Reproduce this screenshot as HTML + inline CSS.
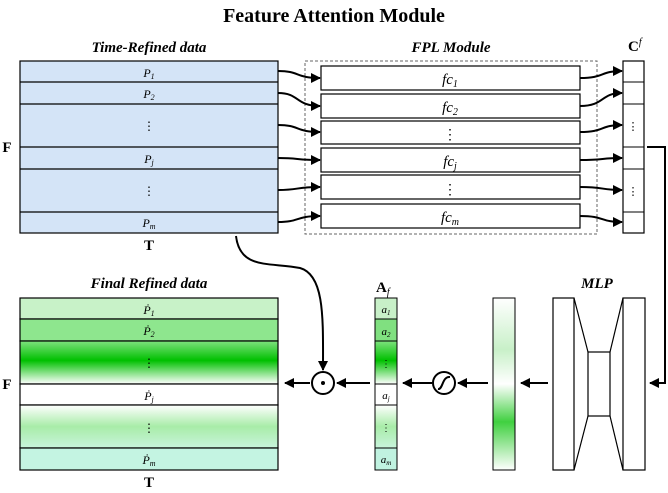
<!DOCTYPE html>
<html><head><meta charset="utf-8"><style>
body{margin:0;background:#fff}
svg text{font-family:"Liberation Serif",serif}
.d{font-style:normal}
</style></head><body>
<svg width="668" height="488" viewBox="0 0 668 488" xmlns="http://www.w3.org/2000/svg">
<defs>
<marker id="ah" viewBox="0 0 10 10" refX="9" refY="5" markerWidth="5" markerHeight="5" orient="auto"><path d="M0,0 L10,5 L0,10 z" fill="#000"/></marker>
<linearGradient id="g3" x1="0" y1="0" x2="0" y2="1"><stop offset="0" stop-color="#7ee27e"/><stop offset="0.45" stop-color="#00c000"/><stop offset="1" stop-color="#ffffff"/></linearGradient>
<linearGradient id="g5" x1="0" y1="0" x2="0" y2="1"><stop offset="0" stop-color="#ffffff"/><stop offset="0.5" stop-color="#a8eca8"/><stop offset="1" stop-color="#c8f4dc"/></linearGradient>
<linearGradient id="gm" x1="0" y1="0" x2="0" y2="1"><stop offset="0" stop-color="#ffffff"/><stop offset="0.3" stop-color="#c8f0c8"/><stop offset="0.5" stop-color="#ffffff"/><stop offset="0.72" stop-color="#40d040"/><stop offset="1" stop-color="#ffffff"/></linearGradient>
</defs>
<text x="334" y="22" font-size="20" font-weight="bold" text-anchor="middle">Feature Attention Module</text>
<g font-style="italic" font-weight="bold" font-size="15" text-anchor="middle">
<text x="149" y="52">Time-Refined data</text>
<text x="451" y="52">FPL Module</text>
<text x="149" y="288">Final Refined data</text>
<text x="597" y="288">MLP</text>
</g>
<g font-weight="bold" font-size="15" text-anchor="middle">
<text x="7" y="152">F</text><text x="149" y="250">T</text>
<text x="7" y="389">F</text><text x="149" y="487">T</text>
</g>
<rect x="20" y="61" width="258" height="172" fill="#d4e4f7" stroke="#000" stroke-width="1.2"/>
<g stroke="#000" stroke-width="1.2"><line x1="20" y1="82" x2="278" y2="82"/><line x1="20" y1="104" x2="278" y2="104"/><line x1="20" y1="147" x2="278" y2="147"/><line x1="20" y1="169" x2="278" y2="169"/><line x1="20" y1="212" x2="278" y2="212"/></g>
<g font-style="italic" font-size="12" text-anchor="middle">
<text x="149" y="77">P<tspan font-size="8" dy="2">1</tspan></text>
<text x="149" y="98">P<tspan font-size="8" dy="2">2</tspan></text>
<text class="d" x="149" y="130">⋮</text>
<text x="149" y="163">P<tspan font-size="8" dy="2">j</tspan></text>
<text class="d" x="149" y="195">⋮</text>
<text x="149" y="227">P<tspan font-size="8" dy="2">m</tspan></text>
</g>
<rect x="305" y="61" width="292" height="173" fill="none" stroke="#666" stroke-dasharray="3,2"/>
<g fill="#fff" stroke="#000" stroke-width="1.2">
<rect x="321" y="66" width="259" height="24"/><rect x="321" y="94" width="259" height="24"/><rect x="321" y="121" width="259" height="23"/><rect x="321" y="148" width="259" height="24"/><rect x="321" y="175" width="259" height="24"/><rect x="321" y="204" width="259" height="24"/>
</g>
<g font-style="italic" font-size="15" text-anchor="middle">
<text x="450" y="84">fc<tspan font-size="10" dy="3">1</tspan></text>
<text x="450" y="112">fc<tspan font-size="10" dy="3">2</tspan></text>
<text class="d" x="450" y="139" font-size="14">⋮</text>
<text x="450" y="166">fc<tspan font-size="10" dy="3">j</tspan></text>
<text class="d" x="450" y="194" font-size="14">⋮</text>
<text x="450" y="222">fc<tspan font-size="10" dy="3">m</tspan></text>
</g>
<g fill="none" stroke="#000" stroke-width="2" marker-end="url(#ah)">
<path d="M278,71 C300,71 295,78 320,78"/>
<path d="M278,93 C300,93 295,106 320,106"/>
<path d="M278,125 C300,125 295,132 320,132"/>
<path d="M278,158 C300,158 295,160 320,160"/>
<path d="M278,190 C300,190 295,187 320,187"/>
<path d="M278,222 C300,222 295,216 320,216"/>
<path d="M580,78 C605,78 600,71 622,71"/>
<path d="M580,106 C605,106 600,93 622,93"/>
<path d="M580,132 C605,132 600,125 622,125"/>
<path d="M580,160 C605,160 600,158 622,158"/>
<path d="M580,187 C605,187 600,190 622,190"/>
<path d="M580,216 C605,216 600,222 622,222"/>
</g>
<rect x="623" y="61" width="21" height="172" fill="#fff" stroke="#000" stroke-width="1.2"/>
<g stroke="#000"><line x1="623" y1="82" x2="644" y2="82"/><line x1="623" y1="104" x2="644" y2="104"/><line x1="623" y1="147" x2="644" y2="147"/><line x1="623" y1="169" x2="644" y2="169"/><line x1="623" y1="212" x2="644" y2="212"/></g>
<text x="633" y="130" font-size="11" text-anchor="middle">⋮</text><text x="633" y="195" font-size="11" text-anchor="middle">⋮</text>
<text x="628" y="51" font-size="15" font-weight="bold">C<tspan font-size="10" font-weight="normal" font-style="italic" dy="-6">f</tspan></text>
<path d="M647,147 H665 V383 H650" fill="none" stroke="#000" stroke-width="2" marker-end="url(#ah)"/>
<g fill="#fff" stroke="#000" stroke-width="1.2">
<rect x="553" y="298" width="21" height="172"/><rect x="623" y="298" width="22" height="172"/><rect x="588" y="352" width="22" height="64"/>
<path d="M574,298 L588,352 M574,470 L588,416 M623,298 L610,352 M623,470 L610,416" fill="none"/>
</g>
<rect x="493" y="298" width="22" height="172" fill="url(#gm)" stroke="#000" stroke-width="1"/>
<g fill="none" stroke="#000" stroke-width="2" marker-end="url(#ah)">
<line x1="548" y1="383" x2="521" y2="383"/>
<line x1="488" y1="383" x2="458" y2="383"/>
<line x1="432" y1="383" x2="403" y2="383"/>
<line x1="370" y1="383" x2="337" y2="383"/>
<line x1="310" y1="383" x2="285" y2="383"/>
<path d="M236,236 C240,270 270,262 300,268 C325,275 323,320 323,370"/>
</g>
<circle cx="444" cy="383" r="11" fill="#fff" stroke="#000" stroke-width="2"/>
<path d="M438,389 C443,390 442,376 450,377" fill="none" stroke="#000" stroke-width="2"/>
<circle cx="323" cy="383" r="11" fill="#fff" stroke="#000" stroke-width="2"/>
<circle cx="323" cy="383" r="2" fill="#000"/>
<g stroke="#000" stroke-width="1">
<rect x="375" y="298" width="22" height="21" fill="#c8f0c8"/>
<rect x="375" y="319" width="22" height="22" fill="#80e080"/>
<rect x="375" y="341" width="22" height="43" fill="url(#g3)"/>
<rect x="375" y="384" width="22" height="21" fill="#fff"/>
<rect x="375" y="405" width="22" height="43" fill="url(#g5)"/>
<rect x="375" y="448" width="22" height="22" fill="#c0f2e0"/>
</g>
<g font-style="italic" font-size="11" text-anchor="middle">
<text x="386" y="313">a<tspan font-size="7" dy="2">1</tspan></text>
<text x="386" y="335">a<tspan font-size="7" dy="2">2</tspan></text>
<text class="d" x="386" y="367" font-size="10">⋮</text>
<text x="386" y="399">a<tspan font-size="7" dy="2">j</tspan></text>
<text class="d" x="386" y="431" font-size="10">⋮</text>
<text x="386" y="463">a<tspan font-size="7" dy="2">m</tspan></text>
</g>
<text x="376" y="292" font-size="15" font-weight="bold">A<tspan font-size="10" font-weight="normal" font-style="italic" dy="3">f</tspan></text>
<g stroke="#000" stroke-width="1.2">
<rect x="20" y="298" width="258" height="21" fill="#c8f2c8"/>
<rect x="20" y="319" width="258" height="22" fill="#8ee68e"/>
<rect x="20" y="341" width="258" height="43" fill="url(#g3)"/>
<rect x="20" y="384" width="258" height="21" fill="#fff"/>
<rect x="20" y="405" width="258" height="43" fill="url(#g5)"/>
<rect x="20" y="448" width="258" height="22" fill="#c4f4e2"/>
</g>
<g font-style="italic" font-size="12" text-anchor="middle">
<text x="149" y="314">Ṗ<tspan font-size="8" dy="2">1</tspan></text>
<text x="149" y="335">Ṗ<tspan font-size="8" dy="2">2</tspan></text>
<text class="d" x="149" y="367">⋮</text>
<text x="149" y="400">Ṗ<tspan font-size="8" dy="2">j</tspan></text>
<text class="d" x="149" y="432">⋮</text>
<text x="149" y="464">Ṗ<tspan font-size="8" dy="2">m</tspan></text>
</g>
</svg>
</body></html>
